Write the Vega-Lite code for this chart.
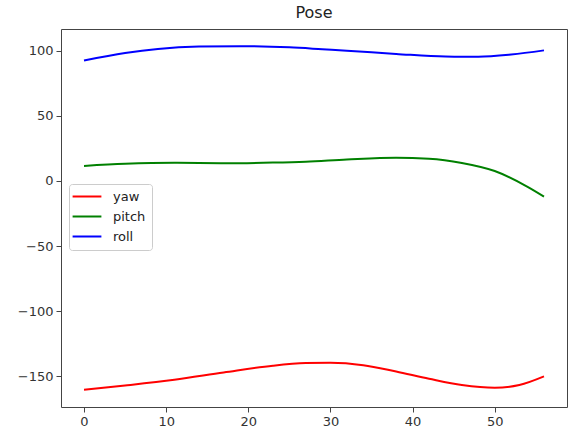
{
  "$schema": "https://vega.github.io/schema/vega-lite/v6.json",
  "width": 506,
  "height": 378,
  "autosize": {"type": "none"},
  "padding": {"left": 61, "top": 29, "right": 6, "bottom": 29},
  "background": "white",
  "title": {"text": "Pose", "fontSize": 16, "font": "DejaVu Sans", "fontWeight": "normal", "color": "#222", "offset": 8},
  "config": {
    "view": {"stroke": "#444", "strokeWidth": 1},
    "axis": {"domain": false, "grid": false, "tickColor": "#444", "tickSize": 5, "labelFontSize": 13, "labelFont": "DejaVu Sans", "labelColor": "#333", "labelPadding": 3, "title": null}
  },
  "data": {"values": [
    {"frame": 0, "angle": -160.3, "series": "yaw"},
    {"frame": 5, "angle": -157.0, "series": "yaw"},
    {"frame": 11, "angle": -152.6, "series": "yaw"},
    {"frame": 17, "angle": -147.0, "series": "yaw"},
    {"frame": 23, "angle": -141.8, "series": "yaw"},
    {"frame": 27, "angle": -139.8, "series": "yaw"},
    {"frame": 30, "angle": -139.5, "series": "yaw"},
    {"frame": 34, "angle": -141.4, "series": "yaw"},
    {"frame": 38, "angle": -146.3, "series": "yaw"},
    {"frame": 42, "angle": -151.8, "series": "yaw"},
    {"frame": 46, "angle": -156.6, "series": "yaw"},
    {"frame": 50, "angle": -158.7, "series": "yaw"},
    {"frame": 53, "angle": -156.6, "series": "yaw"},
    {"frame": 56, "angle": -150.0, "series": "yaw"},
    {"frame": 0, "angle": 11.5, "series": "pitch"},
    {"frame": 5, "angle": 13.1, "series": "pitch"},
    {"frame": 11, "angle": 13.9, "series": "pitch"},
    {"frame": 17, "angle": 13.6, "series": "pitch"},
    {"frame": 23, "angle": 14.1, "series": "pitch"},
    {"frame": 27, "angle": 14.8, "series": "pitch"},
    {"frame": 32, "angle": 16.4, "series": "pitch"},
    {"frame": 38, "angle": 17.7, "series": "pitch"},
    {"frame": 42, "angle": 17.0, "series": "pitch"},
    {"frame": 46, "angle": 13.8, "series": "pitch"},
    {"frame": 50, "angle": 7.6, "series": "pitch"},
    {"frame": 54, "angle": -4.5, "series": "pitch"},
    {"frame": 56, "angle": -12.0, "series": "pitch"},
    {"frame": 0, "angle": 92.5, "series": "roll"},
    {"frame": 5, "angle": 98.2, "series": "roll"},
    {"frame": 9, "angle": 101.3, "series": "roll"},
    {"frame": 14, "angle": 103.1, "series": "roll"},
    {"frame": 19, "angle": 103.4, "series": "roll"},
    {"frame": 25, "angle": 102.5, "series": "roll"},
    {"frame": 29, "angle": 101.1, "series": "roll"},
    {"frame": 32, "angle": 100.0, "series": "roll"},
    {"frame": 38, "angle": 97.5, "series": "roll"},
    {"frame": 44, "angle": 95.4, "series": "roll"},
    {"frame": 48, "angle": 95.3, "series": "roll"},
    {"frame": 52, "angle": 97.0, "series": "roll"},
    {"frame": 56, "angle": 100.2, "series": "roll"}
  ]},
  "mark": {"type": "line", "strokeWidth": 2, "interpolate": "monotone"},
  "encoding": {
    "x": {"field": "frame", "type": "quantitative", "scale": {"domain": [-2.8, 58.8], "nice": false, "zero": false}, "axis": {"values": [0, 10, 20, 30, 40, 50]}},
    "y": {"field": "angle", "type": "quantitative", "scale": {"domain": [-173.5, 116.6], "nice": false, "zero": false}, "axis": {"values": [-150, -100, -50, 0, 50, 100]}},
    "color": {"field": "series", "type": "nominal", "sort": ["yaw", "pitch", "roll"],
      "scale": {"domain": ["yaw", "pitch", "roll"], "range": ["#ff0000", "#008000", "#0000ff"]},
      "legend": {"orient": "none", "legendX": 8, "legendY": 155, "title": null, "symbolType": "M-3.6,0L3.6,0", "symbolStrokeWidth": 2, "symbolSize": 64, "symbolOffset": 5.5, "labelFontSize": 13, "labelFont": "DejaVu Sans", "labelColor": "#222", "fillColor": "white", "strokeColor": "#cccccc", "cornerRadius": 3, "padding": 6, "rowPadding": 6, "labelOffset": 19.5}
    }
  }
}
